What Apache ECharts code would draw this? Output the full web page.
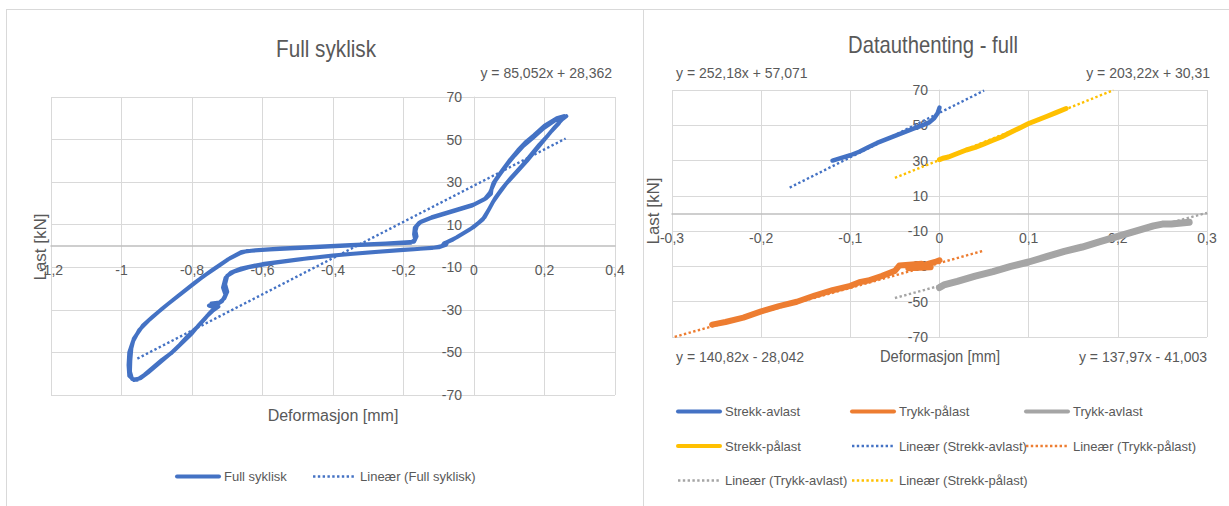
<!DOCTYPE html>
<html>
<head>
<meta charset="utf-8">
<script src="https://cdn.jsdelivr.net/npm/echarts@6/dist/echarts.min.js"></script>
<style>html,body{margin:0;padding:0;background:#fff}#c{width:1229px;height:506px}</style>
</head>
<body>
<div id="c"></div>
<script>
// ---------- DATA (left chart: Full syklisk) ----------
const xTicksLeft = [-1.2, 0.4, 0.2];   // min, max, interval
const yTicks = [-70, 70, 20];
const cycle1 = [
  [0.255,61],[0.235,60],[0.2,56.5],[0.17,52],[0.148,49],[0.125,45],[0.1,40],[0.08,35.5],[0.065,32],[0.055,29.5],
  [0.05,27],[0.048,24.5],[0.035,22.5],[0.0,19.5],[-0.04,17.5],[-0.08,15.5],[-0.12,13.5],[-0.15,11.5],[-0.162,9.5],
  [-0.166,7],[-0.163,4.5],[-0.17,2],[-0.25,1.2],[-0.35,0.5],[-0.45,-0.3],[-0.55,-1.2],[-0.62,-2],[-0.66,-2.8],
  [-0.69,-5.5],[-0.73,-10],[-0.77,-14.5],[-0.82,-21],[-0.87,-27.5],[-0.91,-33],[-0.94,-37.5],[-0.965,-43.5],
  [-0.972,-48],[-0.975,-54],[-0.976,-59],[-0.97,-62.5],[-0.955,-62.8],[-0.935,-60.5],[-0.91,-57],[-0.885,-53.5],
  [-0.86,-50.5],[-0.835,-46.5],[-0.81,-42],[-0.785,-38],[-0.765,-34.5],[-0.75,-31.5],[-0.735,-29],[-0.752,-28],
  [-0.73,-27.5],[-0.715,-26],[-0.705,-23],[-0.712,-19.5],[-0.705,-15],[-0.69,-12.5],[-0.66,-10.5],[-0.6,-8.5],
  [-0.5,-6.3],[-0.4,-4.5],[-0.3,-3],[-0.2,-1.8],[-0.12,-1],[-0.09,0],[-0.085,1.2],[-0.06,3],[-0.04,5],[-0.02,7],
  [0.0,9],[0.025,12.5],[0.04,16.5],[0.055,21],[0.07,24.5],[0.09,29],[0.12,34.5],[0.15,40],[0.175,45],[0.2,50],
  [0.22,54],[0.24,57.5],[0.255,61]
];
const cycle2 = [
  [0.255,61],[0.23,59],[0.195,55],[0.165,50.5],[0.14,47],[0.115,42.5],[0.095,38.5],[0.075,34],[0.06,30.5],
  [0.052,27.5],[0.045,25],[0.03,22],[-0.005,19],[-0.045,17],[-0.085,15],[-0.125,13],[-0.155,11],[-0.168,8.5],
  [-0.17,5.5],[-0.167,3],[-0.18,1.5],[-0.28,0.8],[-0.38,0],[-0.48,-0.8],[-0.58,-1.6],[-0.645,-2.4],[-0.665,-3.5],
  [-0.7,-6.5],[-0.74,-11],[-0.79,-17],[-0.84,-23.5],[-0.885,-29.5],[-0.92,-34.5],[-0.95,-39.5],[-0.968,-45],
  [-0.978,-50],[-0.98,-56],[-0.978,-61],[-0.965,-63],[-0.945,-62],[-0.925,-59.5],[-0.9,-56],[-0.875,-52.5],
  [-0.85,-49],[-0.825,-45],[-0.8,-41],[-0.78,-37],[-0.758,-33],[-0.742,-30.5],[-0.725,-28.5],[-0.745,-27],
  [-0.722,-26.5],[-0.708,-24.5],[-0.7,-21.5],[-0.706,-18],[-0.7,-14],[-0.68,-12],[-0.64,-10],[-0.57,-8],
  [-0.47,-5.8],[-0.37,-4],[-0.27,-2.7],[-0.17,-1.5],[-0.1,-0.6],[-0.08,0.5],[-0.075,2],[-0.05,4],[-0.03,6],
  [-0.01,8],[0.01,10.5],[0.03,13.5],[0.045,18],[0.06,22.5],[0.08,27],[0.105,32],[0.135,37.5],[0.16,42.5],
  [0.185,47.5],[0.21,52],[0.23,56],[0.25,59.5],[0.262,61]
];
const fullSyklisk = cycle1.concat(cycle2);
const trendFull = [[-0.955,-52.9],[0.26,50.5]];
const eqFull = 'y = 85,052x + 28,362';

// ---------- DATA (right chart: Datauthenting - full) ----------
const xTicksRight = [-0.3, 0.3, 0.1];
const strekkAvlast = [[-0.12,30],[-0.11,31.5],[-0.1,33],[-0.09,35],[-0.08,37.5],[-0.07,40],[-0.06,42],[-0.05,44],
  [-0.04,46],[-0.03,48],[-0.02,49.8],[-0.012,51.5],[-0.006,54],[-0.002,57],[0.0,60]];
const strekkPalast = [[0,30.5],[0.005,31.5],[0.01,32],[0.02,34],[0.03,36],[0.04,37.5],[0.05,39.5],[0.06,41.5],
  [0.07,43.5],[0.08,46],[0.09,48.5],[0.1,51],[0.11,53],[0.12,55],[0.13,57],[0.142,59.5]];
const trykkPalast = [[-0.255,-63],[-0.24,-61.5],[-0.22,-59],[-0.2,-55.5],[-0.18,-52.5],[-0.16,-50],[-0.14,-46.5],
  [-0.12,-43.5],[-0.1,-41],[-0.09,-39],[-0.08,-38],[-0.065,-35.5],[-0.05,-32.5],[-0.045,-29.5],[-0.02,-28.5],
  [-0.01,-30.5],[-0.035,-31],[-0.02,-29.5],[-0.005,-27.5],[0,-26.5]];
const trykkAvlast = [[0,-42],[0.005,-40.5],[0.02,-38.5],[0.04,-35.5],[0.06,-33],[0.08,-30],[0.1,-27.5],[0.12,-24.5],
  [0.14,-21.5],[0.16,-19],[0.18,-16],[0.2,-13],[0.22,-10],[0.24,-7],[0.25,-6],[0.26,-6],[0.28,-5]];
const trendStrekkAvlast = [[-0.168,14.7],[0.05,69.7]];
const trendStrekkPalast = [[-0.05,20.2],[0.195,69.9]];
const trendTrykkPalast = [[-0.297,-69.9],[0.05,-21]];
const trendTrykkAvlast = [[-0.05,-47.9],[0.3,0.4]];
const eqStrekkAvlast = 'y = 252,18x + 57,071';
const eqStrekkPalast = 'y = 203,22x + 30,31';
const eqTrykkPalast = 'y = 140,82x - 28,042';
const eqTrykkAvlast = 'y = 137,97x - 41,003';

// ---------- STYLE ----------
const FONT = "'Liberation Sans',Arial,sans-serif";
const TXT = '#595959', GRID = '#d9d9d9';
const BLUE = '#4472C4', ORANGE = '#ED7D31', GRAY = '#A5A5A5', YELLOW = '#FFC000';
const DOT = [2.4, 2.4];

function fmt(v){ return String(+v.toFixed(2)).replace('.', ','); }
const hidden = {show:false};
// main axes: grid lines + axis lines only
function xMain(idx, t){
  return {type:'value', gridIndex:idx, min:t[0], max:t[1], interval:t[2],
    axisLine:{show:true, onZero:true, lineStyle:{color:'#bfbfbf', width:1.5}},
    axisTick:hidden, axisLabel:hidden,
    splitLine:{show:true, lineStyle:{color:GRID, width:1}}};
}
function yMain(idx){
  return {type:'value', gridIndex:idx, min:yTicks[0], max:yTicks[1], interval:yTicks[2],
    axisLine:{show:true, onZero:true, lineStyle:{color:GRID, width:1}},
    axisTick:hidden, axisLabel:hidden,
    splitLine:{show:true, lineStyle:{color:GRID, width:1}}};
}
// label-only axes placed on the zero lines
function xLab(idx, t){
  return {type:'value', gridIndex:idx, min:t[0], max:t[1], interval:t[2], position:'bottom',
    axisLine:hidden, axisTick:hidden, splitLine:hidden,
    axisLabel:{color:TXT, fontSize:14, fontFamily:FONT, margin:17, formatter:fmt, hideOverlap:false, showMinLabel:true, showMaxLabel:true}};
}
function yLab(idx){
  return {type:'value', gridIndex:idx, min:yTicks[0], max:yTicks[1], interval:yTicks[2], position:'left',
    axisLine:hidden, axisTick:hidden, splitLine:hidden,
    axisLabel:{color:TXT, fontSize:14, fontFamily:FONT, margin:12, formatter:fmt, hideOverlap:false, showMinLabel:true, showMaxLabel:true}};
}
function dummy(idx){ return {type:'value', gridIndex:idx, show:false, min:0, max:1}; }

function solid(name, data, color, w, xi){
  return {name, type:'line', data, xAxisIndex:xi, yAxisIndex:xi, showSymbol:false, symbol:'none', smooth:false,
    clip:true, lineStyle:{color, width:w, cap:'round', join:'round'}, itemStyle:{color}, z:3};
}
function dotted(name, data, color, xi){
  return {name, type:'line', data, xAxisIndex:xi, yAxisIndex:xi, showSymbol:false, symbol:'none',
    clip:true, lineStyle:{color, width:2.4, type:DOT}, itemStyle:{color}, z:4};
}
function txt(x, y, s, size, sx, opts){
  return {type:'text', x, y, scaleX:sx, silent:true,
    style:Object.assign({text:s, fill:TXT, font: size+'px '+FONT, textAlign:'center', textVerticalAlign:'middle'}, opts||{})};
}
function legItem(name, w){
  return {name, lineStyle:{width:w}, itemStyle:{color:'transparent', borderColor:'transparent', borderWidth:0}};
}
function legend(left, top, items, gap, orient){
  return {left, top, padding:0, orient:orient||'horizontal', itemWidth:42, itemHeight:14, itemGap:gap, selectedMode:false,
    textStyle:{color:TXT, fontSize:13, fontFamily:FONT}, data:items};
}

const chart = echarts.init(document.getElementById('c'), null, {renderer:'svg'});
chart.setOption({
  animation:false,
  backgroundColor:'#fff',
  grid:[
    {left:51, right:614, top:97, bottom:111},      // 0 left main
    {left:672, right:22, top:90, bottom:169},      // 1 right main
    {left:51, right:614, top:97, bottom:260},      // 2 left x labels (bottom edge on y=0)
    {left:474, right:614, top:97, bottom:111},     // 3 left y labels (left edge on x=0)
    {left:672, right:22, top:90, bottom:292.5},    // 4 right x labels
    {left:940, right:22, top:90, bottom:169}       // 5 right y labels
  ],
  xAxis:[xMain(0, xTicksLeft), xMain(1, xTicksRight), xLab(2, xTicksLeft), dummy(3), xLab(4, xTicksRight), dummy(5)],
  yAxis:[yMain(0), yMain(1), dummy(2), yLab(3), dummy(4), yLab(5)],
  legend:[
    legend(175, 470, [legItem('Full syklisk',4), legItem('Lineær (Full syklisk)',2.4)], 25),
    legend(676, 405, [legItem('Strekk-avlast',4), legItem('Strekk-pålast',4), legItem('Lineær (Trykk-avlast)',2.4)], 21.5, 'vertical'),
    legend(850, 405, [legItem('Trykk-pålast',4), legItem('Lineær (Strekk-avlast)',2.4), legItem('Lineær (Strekk-pålast)',2.4)], 21.5, 'vertical'),
    legend(1024, 405, [legItem('Trykk-avlast',4), legItem('Lineær (Trykk-pålast)',2.4)], 21.5, 'vertical')
  ],
  series:[
    solid('Full syklisk', fullSyklisk, BLUE, 4, 0),
    dotted('Lineær (Full syklisk)', trendFull, BLUE, 0),
    solid('Strekk-avlast', strekkAvlast, BLUE, 4.5, 1),
    solid('Trykk-pålast', trykkPalast, ORANGE, 6, 1),
    solid('Trykk-avlast', trykkAvlast, GRAY, 7, 1),
    solid('Strekk-pålast', strekkPalast, YELLOW, 5, 1),
    dotted('Lineær (Strekk-avlast)', trendStrekkAvlast, BLUE, 1),
    dotted('Lineær (Trykk-pålast)', trendTrykkPalast, ORANGE, 1),
    dotted('Lineær (Trykk-avlast)', trendTrykkAvlast, GRAY, 1),
    dotted('Lineær (Strekk-pålast)', trendStrekkPalast, YELLOW, 1)
  ],
  graphic:[
    {type:'line', silent:true, shape:{x1:6, y1:9.5, x2:1229, y2:9.5}, style:{stroke:GRID, lineWidth:1}},
    {type:'line', silent:true, shape:{x1:6.5, y1:9.5, x2:6.5, y2:506}, style:{stroke:GRID, lineWidth:1}},
    {type:'line', silent:true, shape:{x1:643.5, y1:9.5, x2:643.5, y2:506}, style:{stroke:GRID, lineWidth:1}},
    txt(326, 49, 'Full syklisk', 23, 0.9),
    txt(933, 45, 'Datauthenting - full', 23, 0.88),
    txt(612, 73, eqFull, 14, 1, {textAlign:'right'}),
    txt(676, 73, eqStrekkAvlast, 14, 1, {textAlign:'left'}),
    txt(1210, 73, eqStrekkPalast, 14, 1, {textAlign:'right'}),
    txt(676, 357, eqTrykkPalast, 14, 1, {textAlign:'left'}),
    txt(1207, 357, eqTrykkAvlast, 14, 1, {textAlign:'right'}),
    txt(333, 415, 'Deformasjon [mm]', 16, 1),
    txt(940, 356, 'Deformasjon [mm]', 16, 0.92),
    {type:'text', x:40, y:247, rotation:Math.PI/2, silent:true,
      style:{text:'Last [kN]', fill:TXT, font:'17px '+FONT, textAlign:'center', textVerticalAlign:'middle'}},
    {type:'text', x:653, y:211, rotation:Math.PI/2, silent:true,
      style:{text:'Last [kN]', fill:TXT, font:'17px '+FONT, textAlign:'center', textVerticalAlign:'middle'}}
  ]
});
</script>
</body>
</html>
